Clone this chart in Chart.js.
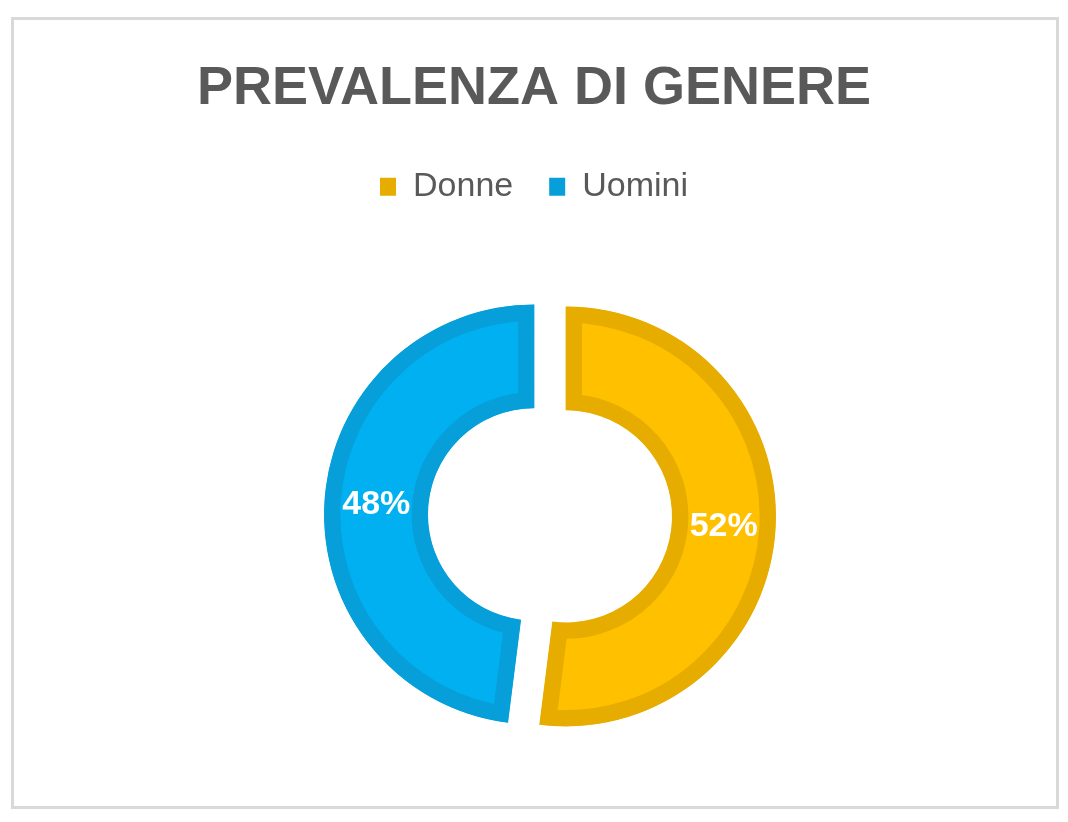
<!DOCTYPE html>
<html>
<head>
<meta charset="utf-8">
<title>Prevalenza di genere</title>
<script src="https://cdn.jsdelivr.net/npm/chart.js@4/dist/chart.umd.min.js"></script>
<style>
  html, body { margin: 0; padding: 0; background: #fff; }
  #wrap { position: relative; width: 1068px; height: 822px; }
  #frame {
    position: absolute; left: 11px; top: 17px; width: 1048px; height: 792px;
    border: 3px solid #d9d9d9; box-sizing: border-box;
  }
  #chart { position: absolute; left: 0; top: 0; }
</style>
</head>
<body>
<div id="wrap">
  <div id="frame"></div>
  <canvas id="chart"></canvas>
</div>
<script>
const categories = ["Donne", "Uomini"];
const shares = [52, 48];
const chartTitle = "PREVALENZA DI GENERE";

// move the doughnut a little right of the title/legend centre, like the original
const shiftArea = {
  id: "shiftArea",
  afterLayout(chart) {
    chart.chartArea.left += 32;
    chart.chartArea.width -= 32;
  }
};

// pull each slice out along its middle angle (exploded doughnut)
const explode = {
  id: "explode",
  afterDatasetsUpdate(chart) {
    chart.getDatasetMeta(0).data.forEach((arc) => {
      const mid = (arc.startAngle + arc.endAngle) / 2;
      arc.x += Math.cos(mid) * 16;
      arc.y += Math.sin(mid) * 16;
    });
  }
};

// percent labels in the middle of each ring slice
const sliceLabels = {
  id: "sliceLabels",
  afterDatasetsDraw(chart) {
    const ctx = chart.ctx;
    const meta = chart.getDatasetMeta(0);
    const values = chart.data.datasets[0].data;
    const total = values.reduce((a, b) => a + b, 0);
    ctx.save();
    ctx.fillStyle = "#ffffff";
    ctx.font = "bold 34px 'Liberation Sans', Arial, sans-serif";
    ctx.textAlign = "center";
    ctx.textBaseline = "middle";
    meta.data.forEach((arc, i) => {
      const p = arc.getCenterPoint();
      ctx.fillText(Math.round(values[i] / total * 100) + "%", p.x, p.y);
    });
    ctx.restore();
  }
};

const ctx = document.getElementById("chart").getContext("2d");
new Chart(ctx, {
  type: "doughnut",
  data: {
    labels: categories,
    datasets: [{
      data: shares,
      backgroundColor: ["#ffc000", "#00b0f0"],
      borderColor: ["#e6ac00", "#069fd9"],
      borderWidth: 16,
      borderAlign: "inner"
    }]
  },
  options: {
    responsive: true,
    maintainAspectRatio: false,
    animation: false,
    radius: 210,
    cutout: "50.5%",
    clip: false,
    layout: { padding: { top: 0, bottom: 5, left: 0, right: 0 } },
    plugins: {
      title: {
        display: true,
        text: chartTitle,
        color: "#595959",
        font: { family: "'Liberation Sans', Arial, sans-serif", size: 54, weight: "bold" },
        padding: { top: 57, bottom: 12 }
      },
      legend: {
        position: "top",
        labels: {
          color: "#595959",
          font: { family: "'Liberation Sans', Arial, sans-serif", size: 34 },
          boxWidth: 16,
          boxHeight: 18,
          padding: 36,
          generateLabels(chart) {
            const ds = chart.data.datasets[0];
            return chart.data.labels.map((label, i) => ({
              text: label,
              fillStyle: ds.borderColor[i],
              strokeStyle: ds.borderColor[i],
              lineWidth: 0,
              fontColor: "#595959",
              hidden: false,
              index: i
            }));
          }
        }
      },
      tooltip: { enabled: false }
    }
  },
  plugins: [shiftArea, explode, sliceLabels]
});
</script>
</body>
</html>
